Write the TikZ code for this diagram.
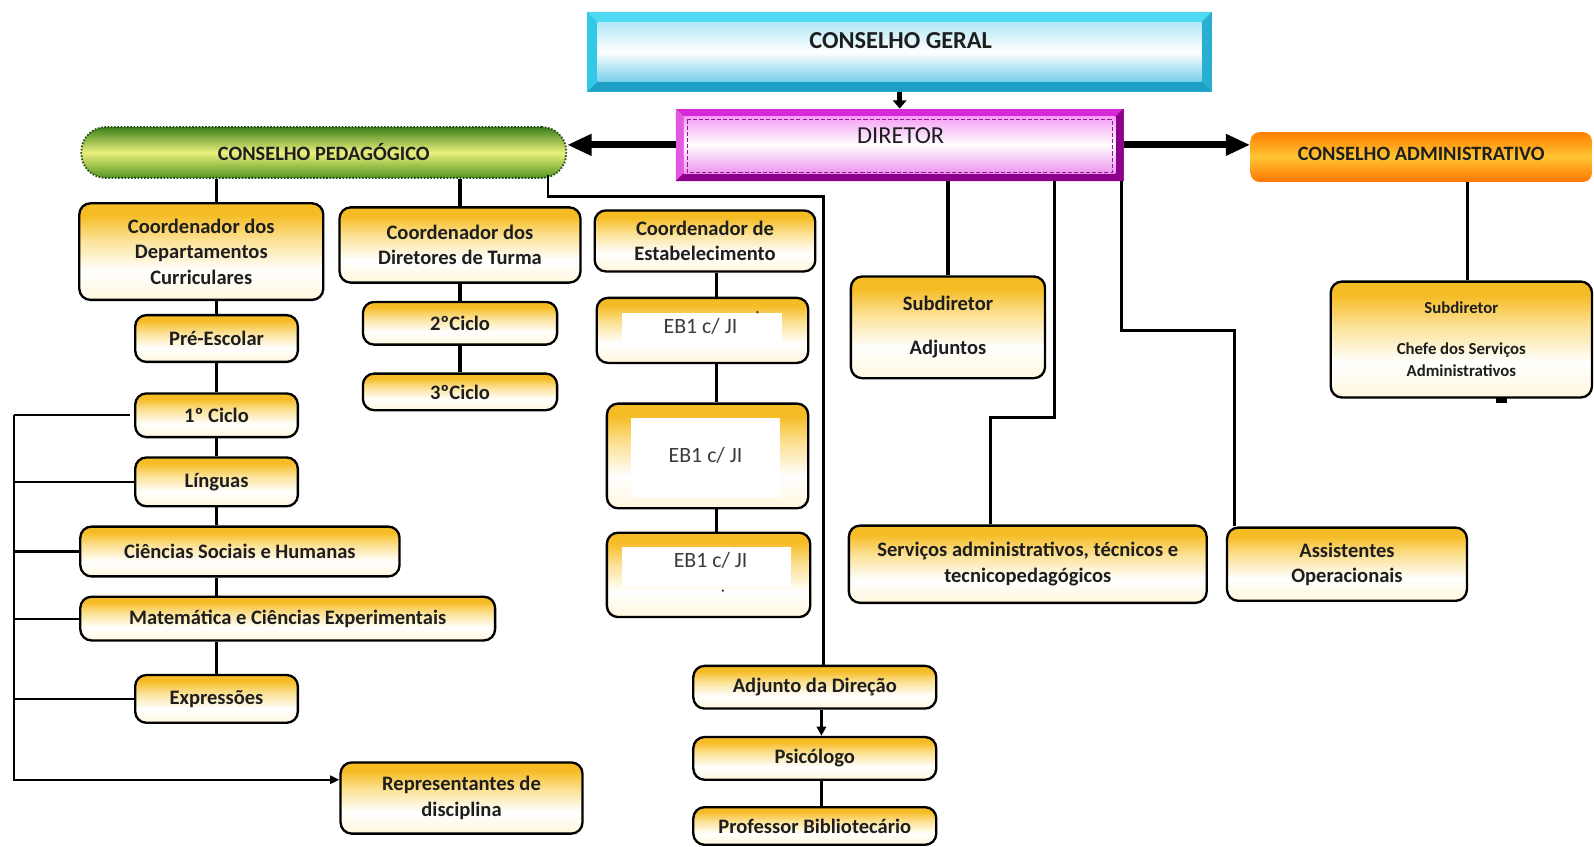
\documentclass[tikz,border=0pt]{standalone}
\usepackage{fontspec}
\setmainfont{Carlito}
\usetikzlibrary{arrows.meta,calc}
\definecolor{gold}{RGB}{246,188,38}
\definecolor{goldlight}{RGB}{252,226,150}
\definecolor{cream}{RGB}{255,247,220}
\definecolor{cgtop}{RGB}{80,218,242}
\definecolor{cgside}{RGB}{50,200,232}
\definecolor{cgright}{RGB}{40,175,210}
\definecolor{cgbot}{RGB}{30,160,198}
\definecolor{cginA}{RGB}{178,232,248}
\definecolor{cginB}{RGB}{120,208,236}
\definecolor{dirtop}{RGB}{214,40,214}
\definecolor{dirleft}{RGB}{226,90,226}
\definecolor{dirdark}{RGB}{140,0,140}
\definecolor{dirinA}{RGB}{246,160,246}
\definecolor{dirinB}{RGB}{238,150,238}
\definecolor{dirdash}{RGB}{150,20,150}
\definecolor{cpA}{RGB}{60,128,26}
\definecolor{cpB}{RGB}{234,240,124}
\definecolor{cpC}{RGB}{84,150,32}
\definecolor{cpline}{RGB}{40,80,20}
\definecolor{caA}{RGB}{255,128,0}
\definecolor{caB}{RGB}{255,196,50}
\definecolor{caC}{RGB}{255,118,0}
\definecolor{ink}{RGB}{30,30,30}
\definecolor{ebink}{RGB}{60,60,60}
\pgfdeclareverticalshading{goldbox}{100bp}{color(0bp)=(cream); color(25bp)=(cream); color(40bp)=(white); color(56bp)=(goldlight); color(69bp)=(gold); color(100bp)=(gold)}
\begin{document}
\begin{tikzpicture}[x=1pt,y=-1pt,
  box/.style={draw=black, line width=2.3pt, rounded corners=11pt, shade, shading=goldbox, align=center, inner sep=0pt, text=ink, font=\bfseries\fontsize{20.2}{25}\selectfont},
  conn/.style={line width=3pt, black},
  br/.style={line width=2pt, black},
  bigarrow/.style={line width=7pt, -{Triangle[length=24pt,width=20pt]}},
  ebt/.style={inner sep=0pt, text=ebink, font=\fontsize{21.5}{25}\selectfont},
  title/.style={inner sep=0pt, text=ink, font=\bfseries\fontsize{20}{24}\selectfont}
]
\useasboundingbox (0,0) rectangle (1568,833);
\fill[white] (0,0) rectangle (1568,833);

% ---------- CONSELHO GERAL ----------
\node[minimum width=614pt, minimum height=78pt, inner sep=0pt] (cg) at (885,51) {};
\fill[cgside] (cg.north west) rectangle (cg.south east);
\fill[cgtop] (cg.north west) -- (cg.north east) -- ($(cg.north east)+(-10,10)$) -- ($(cg.north west)+(10,10)$) -- cycle;
\fill[cgbot] (cg.south west) -- (cg.south east) -- ($(cg.south east)+(-10,-10)$) -- ($(cg.south west)+(10,-10)$) -- cycle;
\fill[cgright] (cg.north east) -- (cg.south east) -- ($(cg.south east)+(-10,-10)$) -- ($(cg.north east)+(-10,10)$) -- cycle;
\shade[top color=cginA, bottom color=cginB, middle color=white] ($(cg.north west)+(10,10)$) rectangle ($(cg.south east)+(-10,-10)$);
\node[inner sep=0pt, text=ink, font=\bfseries\fontsize{24}{28}\selectfont] (cgt) at (886,40) {CONSELHO GERAL};

% ---------- DIRETOR ----------
\node[minimum width=440pt, minimum height=71pt, inner sep=0pt] (dir) at (885,142.5) {};
\fill[dirtop] (dir.north west) rectangle (dir.south east);
\fill[dirleft] (dir.north west) -- (dir.south west) -- ($(dir.south west)+(8,-8)$) -- ($(dir.north west)+(8,8)$) -- cycle;
\fill[dirdark] (dir.south west) -- (dir.south east) -- ($(dir.south east)+(-8,-8)$) -- ($(dir.south west)+(8,-8)$) -- cycle;
\fill[dirdark] (dir.north east) -- (dir.south east) -- ($(dir.south east)+(-8,-8)$) -- ($(dir.north east)+(-8,8)$) -- cycle;
\shade[top color=dirinA, bottom color=dirinB, middle color=white] ($(dir.north west)+(8,8)$) rectangle ($(dir.south east)+(-8,-8)$);
\draw[dirdash, line width=1pt, dash pattern=on 4pt off 2pt] ($(dir.north west)+(11,11)$) rectangle ($(dir.south east)+(-11,-9)$);
\node[inner sep=0pt, text=ink, font=\fontsize{24}{28}\selectfont] (dirt) at (886,133) {DIRETOR};

% ---------- CONSELHO PEDAGOGICO / ADMINISTRATIVO ----------
\node[title, draw=cpline, line width=1.8pt, dash pattern=on 1.6pt off 1.6pt, rounded corners=24pt, top color=cpA, bottom color=cpC, middle color=cpB, minimum width=477pt, minimum height=50pt] (cp) at (318.5,150) {\raisebox{2pt}{CONSELHO PEDAGÓGICO}};
\node[title, rounded corners=9pt, top color=caA, bottom color=caC, middle color=caB, minimum width=336pt, minimum height=49pt] (ca) at (1398,154.5) {\raisebox{6pt}{CONSELHO ADMINISTRATIVO}};

\draw[line width=5pt, -{Triangle[length=8pt,width=13pt]}] (cg.south) -- (dir.north);
\draw[bigarrow] (dir.west) -- (dir.west -| cp.east);
\draw[bigarrow] (dir.east) -- (dir.east -| ca.west);

% ---------- left column ----------
\node[box, minimum width=240pt, minimum height=95pt] (cdd) at (198,247.5) {Coordenador dos\\Departamentos\\Curriculares};
\node[box, minimum width=160pt, minimum height=46pt] (pre) at (213,333) {Pré-Escolar};
\node[box, minimum width=160pt, minimum height=43pt] (c1) at (213,408.5) {1º Ciclo};
\node[box, minimum width=160pt, minimum height=48pt] (ling) at (213,474) {Línguas};
\node[box, minimum width=314pt, minimum height=49pt] (csh) at (236,542.5) {Ciências Sociais e Humanas};
\node[box, minimum width=408pt, minimum height=43pt] (mce) at (283,608.5) {Matemática e Ciências Experimentais};
\node[box, minimum width=160pt, minimum height=47pt] (expr) at (213,687.5) {Expressões};
\node[box, minimum width=238pt, minimum height=70pt] (rep) at (454,785) {Representantes de\\disciplina};

\draw[conn] (cp.south -| pre.north) -- (cdd.north -| pre.north);
\draw[conn] (cdd.south -| pre.north) -- (pre.north);
\draw[conn] (pre.south) -- (c1.north);
\draw[conn] (c1.south) -- (ling.north);
\draw[conn] (ling.south) -- (csh.north -| ling.south);
\draw[conn] (csh.south -| ling.south) -- (mce.north -| ling.south);
\draw[conn] (mce.south -| expr.north) -- (expr.north);

\coordinate (brk) at (14,0);
\coordinate (repin) at ($(rep.west)+(0,-18)$);
\draw[br, -{Triangle[length=9pt,width=8pt]}] (brk |- c1.west) |- (repin);
\draw[br] (brk |- c1.west) -- ($(c1.west)+(-4,0)$);
\foreach \n in {ling,csh,mce,expr} \draw[br] (brk |- \n.west) -- (\n.west);

% ---------- second column ----------
\node[box, minimum width=237pt, minimum height=74pt] (cdt) at (452.5,241) {Coordenador dos\\Diretores de Turma};
\node[box, minimum width=191pt, minimum height=42pt] (c2) at (452.5,318) {2ºCiclo};
\node[box, minimum width=191pt, minimum height=36pt] (c3) at (452.5,385.5) {3ºCiclo};
\draw[conn] (cp.south -| cdt.north) -- (cdt.north);
\draw[conn] (cdt.south) -- (c2.north);
\draw[conn] (c2.south) -- (c3.north);

% ---------- third column ----------
\node[box, minimum width=217pt, minimum height=60pt] (ce) at (693.5,237) {Coordenador de\\Estabelecimento};
\node[box, minimum width=208pt, minimum height=64pt] (eb1) at (691,325) {};
\node[box, minimum width=198pt, minimum height=103pt] (eb2) at (696,448.5) {};
\node[box, minimum width=200pt, minimum height=83pt] (eb3) at (697,565.5) {};
\fill[white] (612,308) rectangle (769,338);
\fill[white] (621,411) rectangle (767,490);
\fill[white] (612,538) rectangle (778,577);
\node[ebt] (eb1t) at (689,321) {EB1 c/ JI};
\node[ebt] (eb2t) at (694,448) {EB1 c/ JI};
\node[ebt] (eb3t) at (699,551) {EB1 c/ JI};
\fill[ebink] (745,307) circle (1.3);
\fill[ebink] (711,581) circle (1.3);
\coordinate (col3) at (705,0);
\draw[conn] (ce.south -| col3) -- (eb1.north -| col3);
\draw[conn] (eb1.south -| col3) -- (eb2.north -| col3);
\draw[conn] (eb2.south -| col3) -- (eb3.north -| col3);

% ---------- Adjunto column ----------
\node[box, minimum width=239pt, minimum height=42pt] (adj) at (801.5,676) {Adjunto da Direção};
\node[box, minimum width=239pt, minimum height=42pt] (psi) at (801.5,746) {Psicólogo};
\node[box, minimum width=239pt, minimum height=37pt] (prof) at (801.5,812.5) {Professor Bibliotecário};
\coordinate (t1) at (810,193);
\draw[line width=2.6pt] ($(cp.south east)+(-19,-4)$) |- (t1) -- (t1 |- adj.north);
\coordinate (col4) at (808,0);
\draw[conn, -{Triangle[length=9pt,width=9pt]}] (adj.south -| col4) -- (psi.north -| col4);
\draw[conn] (psi.south -| col4) -- (prof.north -| col4);

% ---------- right side ----------
\node[box, minimum width=191pt, minimum height=100pt] (sa) at (932.5,322) {Subdiretor\\[18pt]Adjuntos};
\node[box, minimum width=352pt, minimum height=76pt] (serv) at (1011,555) {Serviços administrativos, técnicos e\\tecnicopedagógicos};
\node[box, minimum width=236pt, minimum height=72pt] (assist) at (1325,555) {Assistentes\\Operacionais};
\node[box, minimum width=257pt, minimum height=114pt, font=\bfseries\fontsize{16.5}{22}\selectfont] (sca) at (1437.5,334) {Subdiretor\\[18pt]Chefe dos Serviços\\Administrativos};
\fill (1472,391) rectangle (1482,396);

\draw[conn] (dir.south -| sa.north) -- (sa.north);
\coordinate (k1) at (1037,411);
\coordinate (k2) at (974,411);
\draw[conn] (dir.south -| k1) -- (k1) -- (k2) -- (k2 |- serv.north);
\coordinate (k3) at (1103,325);
\coordinate (k4) at (1214,325);
\draw[conn] (dir.south -| k3) -- (k3) -- (k4) -- (k4 |- assist.north);
\coordinate (k5) at (1444,0);
\draw[conn] (ca.south -| k5) -- (sca.north -| k5);
\end{tikzpicture}
\end{document}
